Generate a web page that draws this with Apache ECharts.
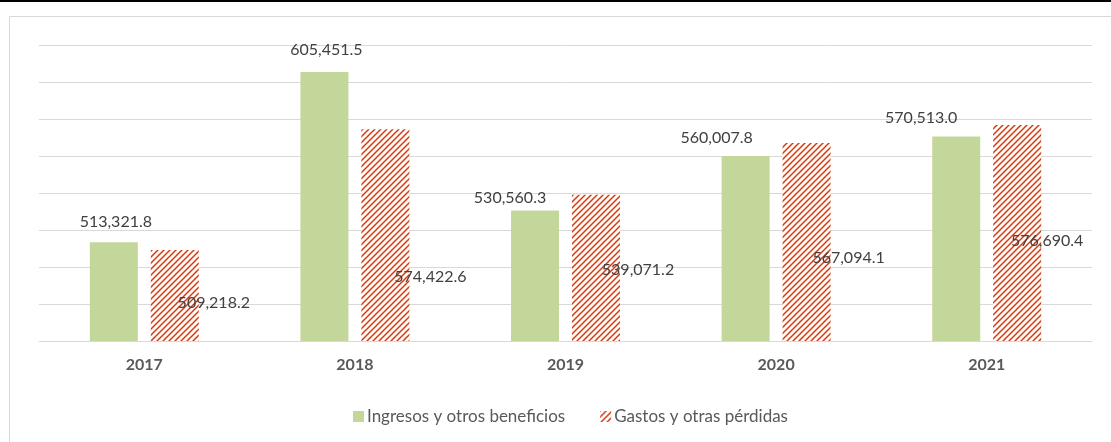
<!DOCTYPE html>
<html>
<head>
<meta charset="utf-8">
<script src="https://cdn.jsdelivr.net/npm/echarts@6/dist/echarts.min.js"></script>
<style>
  html, body { margin: 0; padding: 0; background: #fff; }
  #chart { width: 1111px; height: 442px; }
</style>
</head>
<body>
<div id="chart"></div>
<script>
// data
const years = ['2017', '2018', '2019', '2020', '2021'];
const ingresos = [513321.8, 605451.5, 530560.3, 560007.8, 570513.0];
const gastos = [509218.2, 574422.6, 539071.2, 567094.1, 576690.4];
const seriesNames = ['Ingresos y otros beneficios', 'Gastos y otras pérdidas'];

// label nudges so they sit where the original placed them
const ingresosLabelOffset = [[2, -13], [2, -14], [-25, -5], [-29, -10], [-35, -11]];
const gastosLabelOffset = [[39, 7], [45, 42], [42, 2], [42, 16], [30, 8]];

const FONT = 'Lato';

// hatch pattern for the expenses bars (wide upward diagonal)
function makeHatch() {
  const c = document.createElement('canvas');
  c.width = 6;
  c.height = 6;
  const ctx = c.getContext('2d');
  ctx.fillStyle = '#ffffff';
  ctx.fillRect(0, 0, 6, 6);
  ctx.strokeStyle = '#d9380e';
  ctx.lineWidth = 1.5;
  ctx.beginPath();
  ctx.moveTo(0, 6); ctx.lineTo(6, 0);
  ctx.moveTo(-1, 1); ctx.lineTo(1, -1);
  ctx.moveTo(5, 7); ctx.lineTo(7, 5);
  ctx.stroke();
  return c;
}
const hatch = { image: makeHatch(), repeat: 'repeat' };

const fmt = v => v.toLocaleString('en-US', { minimumFractionDigits: 1, maximumFractionDigits: 1 });

const chart = echarts.init(document.getElementById('chart'), null, { renderer: 'canvas' });

const option = {
  animation: false,
  backgroundColor: '#ffffff',
  graphic: [
    // black rule at the very top
    { type: 'rect', shape: { x: 0, y: 0, width: 1111, height: 2 }, style: { fill: '#000' }, silent: true },
    // chart area frame (runs off the right and bottom)
    { type: 'rect', shape: { x: 9.5, y: 16.5, width: 1200, height: 500 },
      style: { fill: 'none', stroke: '#d9d9d9', lineWidth: 1 }, silent: true }
  ],
  grid: { left: 39, right: 19, top: 45, bottom: 101 },
  legend: {
    left: 348,
    top: 403,
    itemWidth: 11,
    itemHeight: 11,
    itemGap: 35,
    icon: 'rect',
    textStyle: { fontFamily: FONT, fontSize: 17, color: '#595959', padding: [0, 0, 0, -2] },
    data: seriesNames
  },
  xAxis: {
    type: 'category',
    data: years,
    axisLine: { lineStyle: { color: '#d9d9d9', width: 1 } },
    axisTick: { show: false },
    axisLabel: { fontFamily: FONT, fontSize: 16, fontWeight: 'bold', color: '#595959', margin: 16 }
  },
  yAxis: {
    type: 'value',
    min: 460000,
    max: 620000,
    interval: 20000,
    axisLine: { show: false },
    axisTick: { show: false },
    axisLabel: { show: false },
    splitLine: { lineStyle: { color: '#d9d9d9', width: 1 } }
  },
  series: [
    {
      name: seriesNames[0],
      type: 'bar',
      barWidth: 48,
      barGap: '27%',
      itemStyle: { color: '#c4d79b' },
      data: ingresos.map((v, i) => ({
        value: v,
        label: { offset: ingresosLabelOffset[i] }
      })),
      label: {
        show: true,
        position: 'top',
        distance: 0,
        fontFamily: FONT,
        fontSize: 16,
        lineHeight: 16,
        color: '#404040',
        formatter: p => fmt(p.value)
      }
    },
    {
      name: seriesNames[1],
      type: 'bar',
      barWidth: 48,
      itemStyle: { color: hatch },
      data: gastos.map((v, i) => ({
        value: v,
        label: { offset: gastosLabelOffset[i] }
      })),
      label: {
        show: true,
        position: 'inside',
        fontFamily: FONT,
        fontSize: 16,
        lineHeight: 16,
        color: '#404040',
        formatter: p => fmt(p.value)
      }
    }
  ]
};

chart.setOption(option);
</script>
</body>
</html>
